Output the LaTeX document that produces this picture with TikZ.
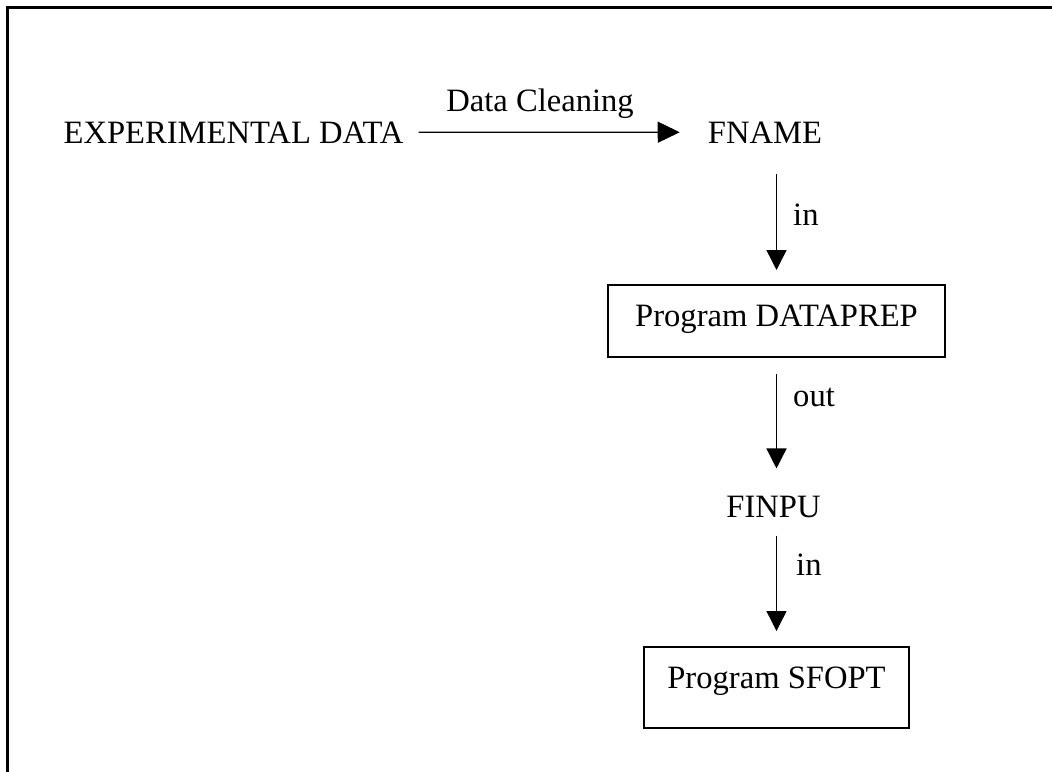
\documentclass[tikz,border=0pt]{standalone}
\usepackage{fontspec}
\setmainfont{Liberation Serif}
\usetikzlibrary{arrows.meta}
\tikzset{
  txt/.style={inner sep=0pt, anchor=base},
  lbl/.style={inner sep=0pt, anchor=base west},
  progbox/.style={draw, line width=2bp, inner sep=0pt, text height=21.5bp},
  arr/.style={line width=1.4bp, -{Triangle[length=20bp,width=20bp]}},
  harr/.style={line width=1.4bp, -{Triangle[length=22bp,width=21bp]}},
  frame/.style={line width=2.2bp}
}
\begin{document}
\begin{tikzpicture}[x=1bp,y=-1bp,font=\fontsize{32.6bp}{39bp}\selectfont]
\useasboundingbox (0,0) rectangle (1052,772);
\draw[frame] (7.5,772) -- (7.5,7.5) -- (1052,7.5);

\node[txt] (exp) at (233.5,143) {EXPERIMENTAL DATA};
\node[txt] (fname) at (765,143) {FNAME};
\node[txt] (clean) at (540,111) {Data Cleaning};
\node[progbox, minimum width=337bp, minimum height=72bp, text depth=11bp] (dataprep) at (776.5,321) {Program DATAPREP};
\node[txt] (finpu) at (773.5,517) {FINPU};
\node[progbox, minimum width=265bp, minimum height=81bp, text depth=20bp] (sfopt) at (776.5,687.5) {Program SFOPT};

\node[lbl] (in1) at (793,225) {in};
\node[lbl] (out1) at (793,406) {out};
\node[lbl] (in2) at (796,575) {in};

\draw[harr, shorten <=15bp, shorten >=28bp] (exp.east) -- (fname.west);
\draw[arr, shorten <=31bp, shorten >=14bp] (fname.south -| dataprep.north) -- (dataprep.north);
\draw[arr, shorten <=16bp, shorten >=27bp] (dataprep.south) -- (dataprep.south |- finpu.north);
\draw[arr, shorten <=18bp, shorten >=15bp] (finpu.south -| sfopt.north) -- (sfopt.north);
\end{tikzpicture}
\end{document}
